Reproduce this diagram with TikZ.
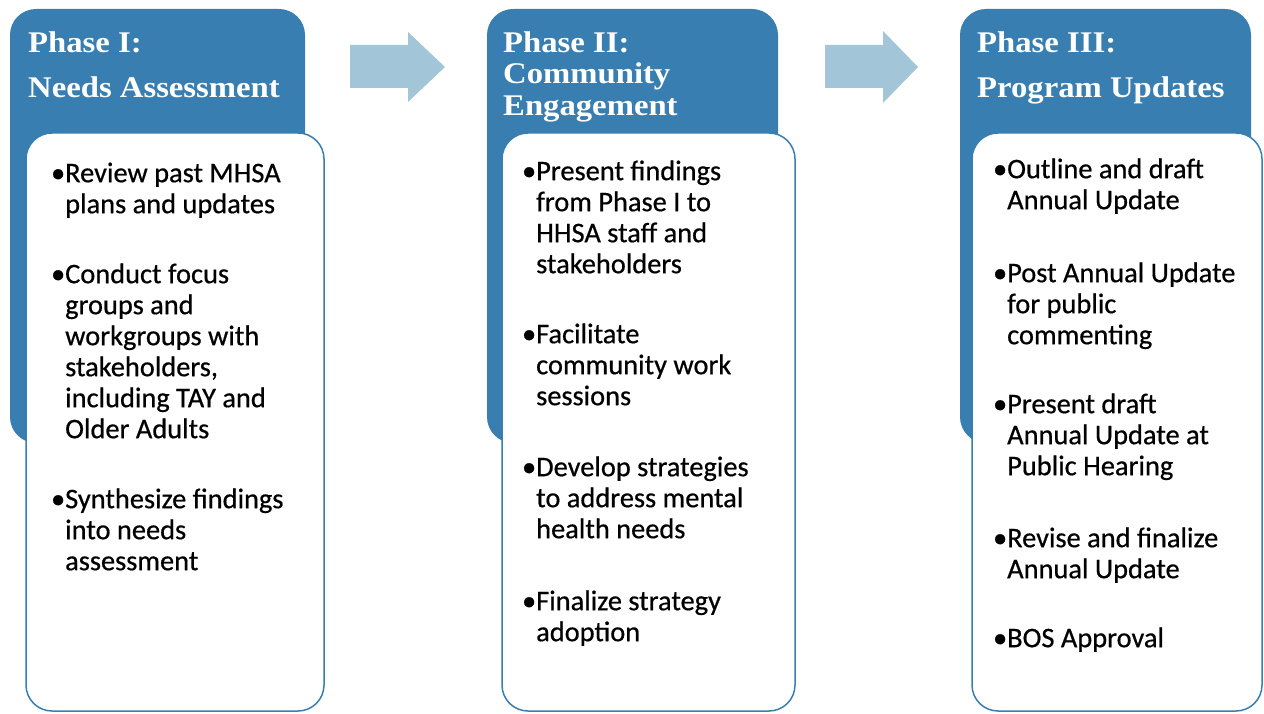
\documentclass[tikz,border=0pt]{standalone}
\usepackage{fontspec}
\setmainfont[FakeBold=0.6]{Carlito}
\newfontfamily\titlefont[FakeStretch=1.09]{Liberation Serif}
\definecolor{phaseblue}{RGB}{56,126,176}
\definecolor{arrowblue}{RGB}{162,197,215}
\begin{document}
\begin{tikzpicture}[x=1pt,y=-1pt,
  header/.style={fill=phaseblue, rounded corners=26pt, inner sep=0pt,
    minimum height=434pt},
  panel/.style={fill=white, draw=phaseblue, line width=1.5pt,
    rounded corners=26pt, inner sep=0pt, minimum height=578pt},
  title/.style={anchor=north west, inner sep=0pt, align=left, text=white,
    font=\titlefont\bfseries\fontsize{30}{31.5}\selectfont},
  item/.style={anchor=north west, inner sep=0pt, align=left, text=black,
    font=\fontsize{28.4}{31}\selectfont},
  flow/.style={fill=arrowblue}]
\path[use as bounding box] (0,0) rectangle (1264,714);

% phase headers
\node[header, minimum width=295pt] (h1) at (157.5,226) {};
\node[header, minimum width=291pt] (h2) at (632.5,226) {};
\node[header, minimum width=291pt] (h3) at (1105.5,226) {};

% block arrows between the phases
\fill[flow] (350,45) -- (408,45) -- (408,32) -- (445,67) -- (408,102)
  -- (408,88) -- (350,88) -- cycle;
\fill[flow] (825,45) -- (883,45) -- (883,31) -- (918,67) -- (883,103)
  -- (883,88) -- (825,88) -- cycle;

% white task panels
\node[panel, minimum width=298pt] (p1) at (175,422) {};
\node[panel, minimum width=293pt] (p2) at (648.5,422) {};
\node[panel, minimum width=290pt] (p3) at (1117,422) {};

% header titles
\node[title] (t1) at (28,30) {\strut Phase I:\\[13.5pt]Needs Assessment};
\node[title] (t2) at (503,30) {\strut Phase II:\\Community\\Engagement};
\node[title] (t3) at (977,30) {\strut Phase III:\\[13.5pt]Program Updates};

% Phase I tasks
\node[item] (b11) at (65,160.3) {\strut\llap{•}Review past MHSA\\plans and updates};
\node[item] (b12) at (65,261.3) {\strut\llap{•}Conduct focus\\groups and\\workgroups with\\stakeholders,\\including TAY and\\Older Adults};
\node[item] (b13) at (65,486.3) {\strut\llap{•}Synthesize findings\\into needs\\assessment};

% Phase II tasks
\node[item] (b21) at (536,158.3) {\strut\llap{•}Present findings\\from Phase I to\\HHSA staff and\\stakeholders};
\node[item] (b22) at (536,321.3) {\strut\llap{•}Facilitate\\community work\\sessions};
\node[item] (b23) at (536,454.3) {\strut\llap{•}Develop strategies\\to address mental\\health needs};
\node[item] (b24) at (536,588.3) {\strut\llap{•}Finalize strategy\\adoption};

% Phase III tasks
\node[item] (b31) at (1007,156.3) {\strut\llap{•}Outline and draft\\Annual Update};
\node[item] (b32) at (1007,260.3) {\strut\llap{•}Post Annual Update\\for public\\commenting};
\node[item] (b33) at (1007,391.3) {\strut\llap{•}Present draft\\Annual Update at\\Public Hearing};
\node[item] (b34) at (1007,525.3) {\strut\llap{•}Revise and finalize\\Annual Update};
\node[item] (b35) at (1007,625.3) {\strut\llap{•}BOS Approval};
\end{tikzpicture}
\end{document}
